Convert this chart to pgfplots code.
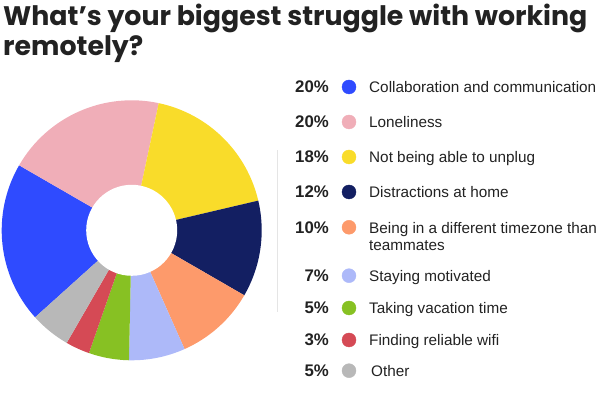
\documentclass[border=0pt]{standalone}
\usepackage{pgfplots}
\usepackage{pgfplotstable}
\pgfplotsset{compat=1.18}
\usepackage{fontspec}
\setmainfont{Liberation Sans}
\newfontfamily\titlefont{Poppins}
\definecolor{cBlue}{HTML}{2F4BFF}
\definecolor{cPink}{HTML}{F0AEB8}
\definecolor{cYellow}{HTML}{F9DC2A}
\definecolor{cNavy}{HTML}{131F62}
\definecolor{cOrange}{HTML}{FD9A6B}
\definecolor{cLight}{HTML}{ADB9F9}
\definecolor{cGreen}{HTML}{87C123}
\definecolor{cRed}{HTML}{D54A55}
\definecolor{cGray}{HTML}{B8B8B8}
\definecolor{txt}{HTML}{222222}
\pgfplotstableread[col sep=comma]{
pct,color,ybase
20,cBlue,93
20,cPink,128
18,cYellow,163
12,cNavy,198
10,cOrange,233.3
7,cLight,281.7
5,cGreen,314
3,cRed,346
5,cGray,376.7
}\data
\tikzset{pct/.style={font=\bfseries\fontsize{16.8}{16.8}\selectfont, text=txt},
  lab/.style={font=\fontsize{15.3}{15.3}\selectfont, text=txt, anchor=base west, inner xsep=0pt}}
\begin{document}
\begin{tikzpicture}
\begin{axis}[width=600pt,height=393pt,scale only axis,xmin=0,xmax=600,ymin=0,ymax=393,hide axis,clip=false]
\def\startang{222}
\pgfplotsforeachungrouped \i in {0,...,8}{%
  \pgfplotstablegetelem{\i}{pct}\of\data \let\v\pgfplotsretval
  \pgfplotstablegetelem{\i}{color}\of\data \let\c\pgfplotsretval
  \pgfplotstablegetelem{\i}{ybase}\of\data \let\yb\pgfplotsretval
  \pgfmathsetmacro\endang{\startang-3.6*\v}
  \pgfmathsetmacro\Y{393-\yb}
  \pgfmathsetmacro\Yd{393-\yb+6}
  \edef\temp{\noexpand\fill[\c] (axis cs:131.7,162.7) -- ++(\startang:130pt) arc[start angle=\startang,end angle=\endang,radius=130pt] -- cycle;
    \noexpand\node[pct,anchor=base east,inner xsep=0pt] at (axis cs:329,\Y) {\v\noexpand\%};
    \noexpand\addplot[only marks,mark=*,mark size=7pt,color=\c] coordinates {(349,\Yd)};}%
  \temp
  \let\startang\endang
}
\fill[white] (axis cs:131.7,162.7) circle[radius=45.5pt];
\draw[color=black!10, line width=1pt] (axis cs:277.7,243) -- (axis cs:277.7,81);
\node[lab] at (axis cs:369,300) {Collaboration and communication};
\node[lab] at (axis cs:369,265) {Loneliness};
\node[lab] at (axis cs:369,230) {Not being able to unplug};
\node[lab] at (axis cs:369,195) {Distractions at home};
\node[lab] at (axis cs:369,159.7) {Being in a different timezone than};
\node[lab] at (axis cs:369,142.3) {teammates};
\node[lab] at (axis cs:369,111.3) {Staying motivated};
\node[lab] at (axis cs:369,79) {Taking vacation time};
\node[lab] at (axis cs:369,47) {Finding reliable wifi};
\node[lab] at (axis cs:371,16.3) {Other};
\node[anchor=base west, inner xsep=0pt, font=\titlefont\bfseries\fontsize{26.8}{26.8}\selectfont, text=txt] at (axis cs:3,367) {What’s your biggest struggle with working};
\node[anchor=base west, inner xsep=0pt, font=\titlefont\bfseries\fontsize{26.8}{26.8}\selectfont, text=txt] at (axis cs:3,337) {remotely?};
\end{axis}
\pgfresetboundingbox
\path (current axis.south west) rectangle (current axis.north east);
\end{tikzpicture}
\end{document}
